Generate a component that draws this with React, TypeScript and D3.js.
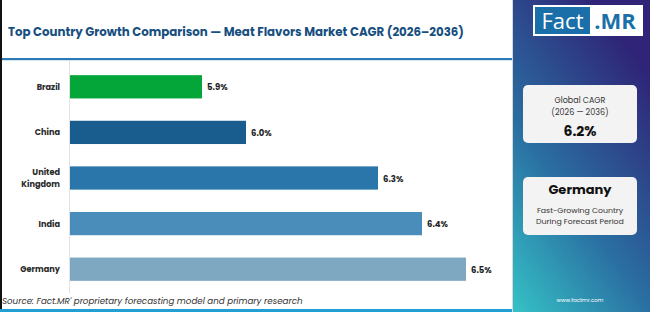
import * as d3 from 'd3';

const countries = ['Brazil', 'China', 'United Kingdom', 'India', 'Germany'];
const cagr = [5.9, 6.0, 6.3, 6.4, 6.5];
const barColors = ['#04a63a', '#195d8f', '#2a76ab', '#4a8cba', '#7ea7c1'];

const title = 'Top Country Growth Comparison — Meat Flavors Market CAGR (2026–2036)';
const source = "Source: Fact.MR' proprietary forecasting model and primary research";
const globalCagr = '6.2%';
const topCountry = 'Germany';

const W = 650;
const H = 312;
const FONT = 'Poppins, Inter, "Open Sans", sans-serif';

export default function App() {
  const x = d3.scaleLinear().domain([5.6, 6.6]).range([70, 510]);
  const y = d3
    .scaleBand<string>()
    .domain(countries)
    .range([64, 292])
    .paddingInner(0.49)
    .paddingOuter(0.245);

  return (
    <svg
      width={W}
      height={H}
      style={{ position: 'absolute', left: 0, top: 0, fontFamily: FONT }}
    >
      <defs>
        <linearGradient id="panel-grad" x1="0" y1="1" x2="0.6" y2="0">
          <stop offset="0%" stopColor="#35c2c6" />
          <stop offset="45%" stopColor="#2a6fa2" />
          <stop offset="100%" stopColor="#2f2477" />
        </linearGradient>
      </defs>

      <rect x={0} y={0} width={W} height={H} fill="#ffffff" />

      {/* title */}
      <text x={8} y={36} fontSize={11.8} fontWeight={700} fill="#174f80">
        {title}
      </text>
      <rect x={0} y={58} width={512} height={2.2} fill="#2b79b5" />

      {/* axis line */}
      <line x1={69.5} x2={69.5} y1={61} y2={293} stroke="#e2e2e2" strokeWidth={1} />

      {/* bars */}
      {countries.map((c, i) => (
        <rect
          key={c}
          x={x(5.6)}
          y={y(c)}
          width={x(cagr[i]) - x(5.6)}
          height={y.bandwidth()}
          fill={barColors[i]}
        />
      ))}

      {/* category labels */}
      {countries.map((c) => {
        const cy = (y(c) as number) + y.bandwidth() / 2;
        const parts = c === 'United Kingdom' ? ['United', 'Kingdom'] : [c];
        return (
          <text
            key={c}
            x={60}
            y={cy - ((parts.length - 1) * 12) / 2 + 3}
            textAnchor="end"
            fontSize={8.2}
            fontWeight={700}
            fill="#2a2a2a"
          >
            {parts.map((p, j) => (
              <tspan key={p} x={60} dy={j === 0 ? 0 : 12}>
                {p}
              </tspan>
            ))}
          </text>
        );
      })}

      {/* value labels */}
      {countries.map((c, i) => (
        <text
          key={c}
          x={x(cagr[i]) + 5}
          y={(y(c) as number) + y.bandwidth() / 2 + 3.5}
          fontSize={8.5}
          fontWeight={700}
          fill="#1e1e1e"
        >
          {cagr[i].toFixed(1)}%
        </text>
      ))}

      {/* source */}
      <text x={2} y={304} fontSize={8.7} fontStyle="italic" fill="#333">
        {source}
      </text>
      <rect x={0} y={309} width={512} height={3} fill="#1f9fd6" />
      <rect x={0} y={0} width={2} height={309} fill="#111" />

      {/* right panel */}
      <rect x={513} y={0} width={137} height={H} fill="url(#panel-grad)" />
      <line x1={512.5} x2={512.5} y1={0} y2={H} stroke="#d8d8d8" />

      {/* logo */}
      <rect x={533} y={5} width={110} height={31} fill="#ffffff" />
      <rect x={535} y={7} width={55} height={27} fill="#1a6fa8" />
      <text x={562.5} y={29} textAnchor="middle" fontSize={22} fill="#ffffff" fontFamily="'Open Sans', sans-serif">
        Fact
      </text>
      <text x={615} y={29} textAnchor="middle" fontSize={22} fontWeight={700} fill="#1a6fa8" fontFamily="'Open Sans', sans-serif">
        .MR
      </text>

      {/* global CAGR box */}
      <rect x={523} y={85} width={114} height={58} rx={5} fill="#f3f3f3" />
      <text x={580} y={103} textAnchor="middle" fontSize={8} fill="#333">
        Global CAGR
      </text>
      <text x={580} y={115} textAnchor="middle" fontSize={8} fill="#333">
        (2026 — 2036)
      </text>
      <text x={580} y={136} textAnchor="middle" fontSize={14} fontWeight={700} fill="#111">
        {globalCagr}
      </text>

      {/* top country box */}
      <rect x={523} y={177} width={114} height={58} rx={5} fill="#f3f3f3" />
      <text x={580} y={194} textAnchor="middle" fontSize={13} fontWeight={700} fill="#111">
        {topCountry}
      </text>
      <text x={580} y={213} textAnchor="middle" fontSize={7.8} fill="#333">
        Fast-Growing Country
      </text>
      <text x={580} y={224} textAnchor="middle" fontSize={7.8} fill="#333">
        During Forecast Period
      </text>

      <text x={580} y={302} textAnchor="middle" fontSize={5.5} fill="#ffffff">
        www.factmr.com
      </text>
    </svg>
  );
}
